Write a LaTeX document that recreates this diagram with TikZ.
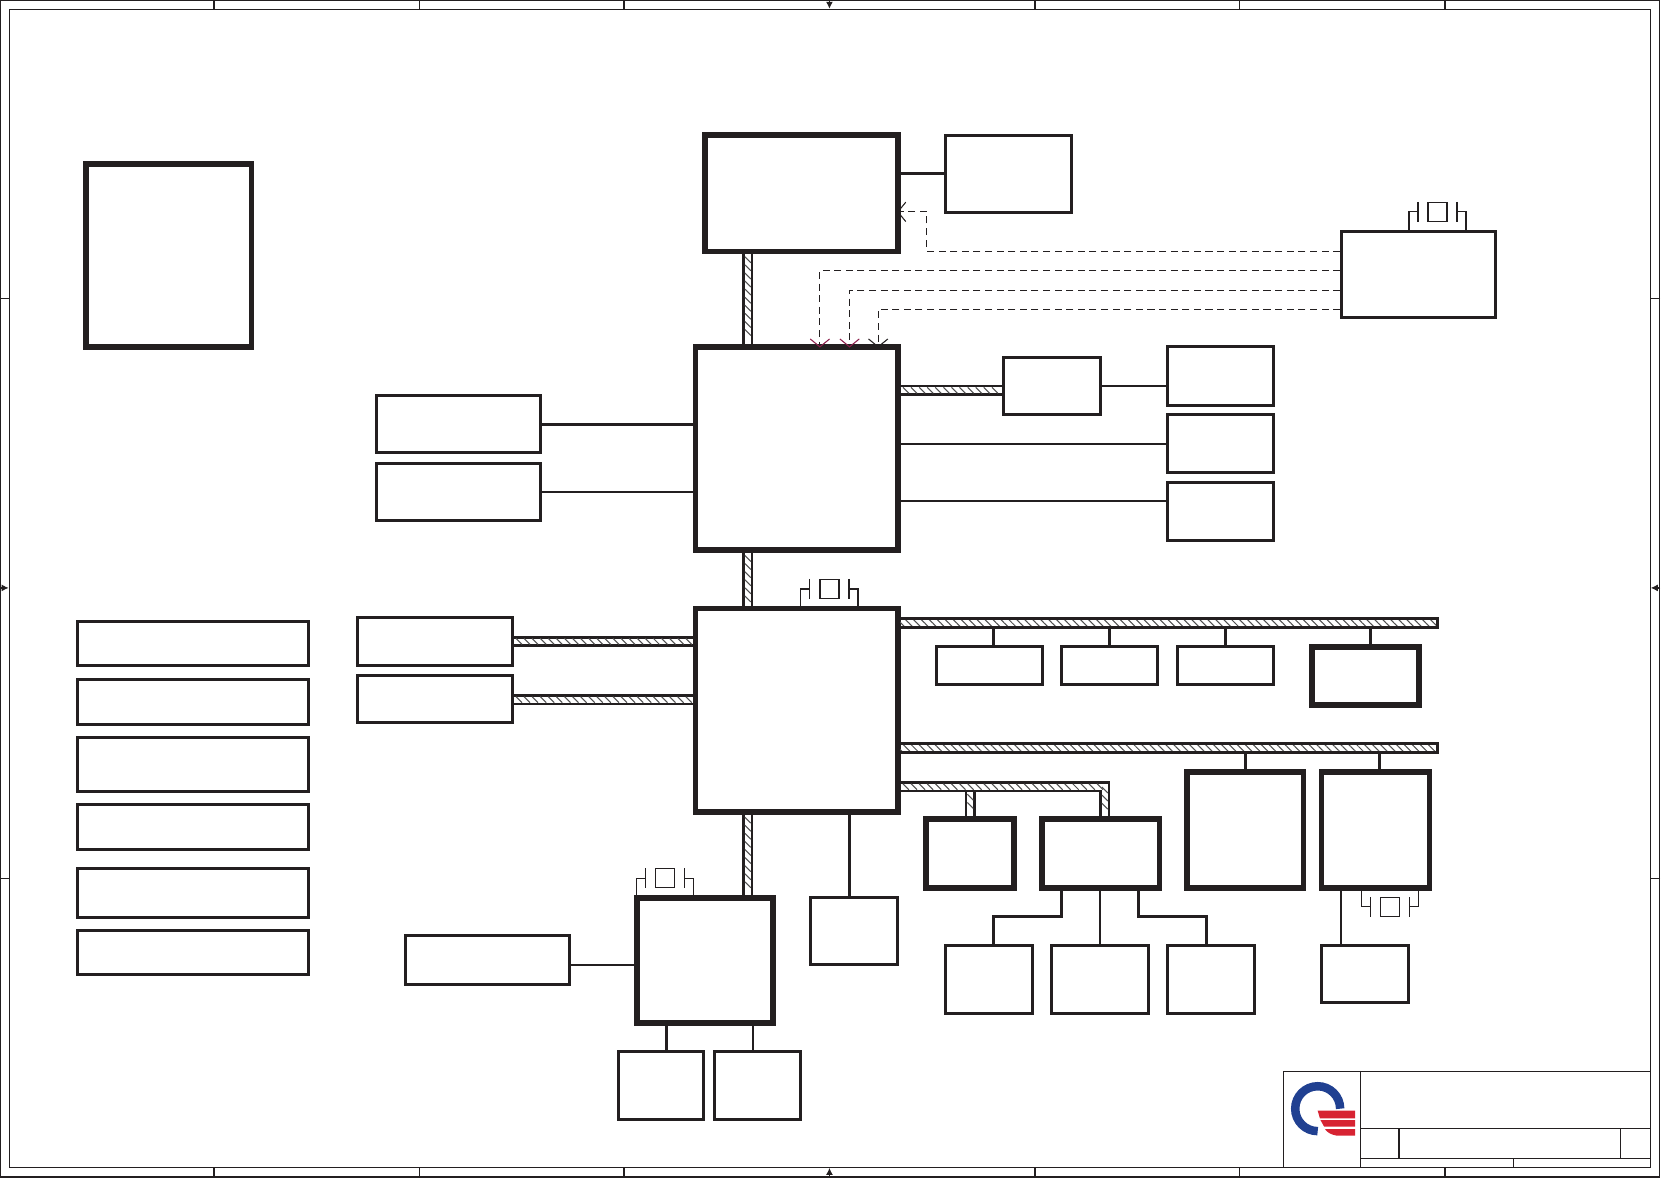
\documentclass[tikz,border=0pt]{standalone}
\usepackage{xcolor}
\usetikzlibrary{positioning, arrows.meta, patterns.meta, decorations.markings}
\definecolor{lineBlack}{RGB}{35, 31, 32}
\definecolor{hatchGray}{RGB}{80, 80, 80}
\definecolor{tipRed}{RGB}{140, 30, 75}
\definecolor{logoBlue}{RGB}{32, 64, 145}
\definecolor{logoRed}{RGB}{215, 35, 50}

\begin{document}
\begin{tikzpicture}[
        x=0.021186cm, y=-0.021186cm,
        wh/.style 2 args={
            minimum width=(#1-1)*0.021186cm, minimum height=(#2-1)*0.021186cm
        },
        box/.style={
            rectangle, draw=lineBlack, line width=1.7pt, fill=white, inner sep=0pt
        },
        heavybox/.style={
            rectangle, draw=lineBlack, line width=3.3pt, fill=white, inner sep=0pt
        },
        sheet/.style={
            rectangle, draw=lineBlack, line width=0.7pt, inner sep=0pt
        },
        rail/.style={
            rectangle, draw=lineBlack, line width=1.45pt, inner sep=0pt,
            pattern={Lines[angle=-45, distance=3.2pt, line width=0.6pt]},
            pattern color=hatchGray
        },
        line/.style={draw=lineBlack, line width=1.45pt},
        link/.style={draw=lineBlack, line width=1pt},
        thin line/.style={draw=lineBlack, line width=0.7pt},
        sheet line/.style={draw=lineBlack, line width=0.7pt},
        sheet arrow/.style={
            draw=lineBlack, line width=0.7pt, -{Latex[length=4pt, width=4pt]}
        },
        signal/.style={
            draw=lineBlack, line width=0.55pt, dash pattern=on 4pt off 2.6pt,
            shorten >=-2pt
        },
        barb/.style={
            -{Straight Barb[length=4.5pt, width=11pt, line width=0.6pt, color=#1]}
        },
        bus/.style={
            draw=lineBlack, line width=6.3pt,
            postaction={draw=white, line width=3.3pt},
            postaction={decorate, decoration={markings,
                mark=between positions 3pt and -2pt step 4.6pt with {
                    \pgftransformresetnontranslations
                    \draw[hatchGray, line width=0.6pt] (-2.8,-2.8) -- (2.8,2.8);
                }}}
        },
        xtalbox/.style={
            rectangle, draw=lineBlack, line width=0.7pt, fill=white, inner sep=0pt,
            minimum size=18*0.021186cm
        },
        crystal/.pic={
            \node[xtalbox] (-q) at (0,0) {};
            \draw[thin line] (-18.5,-9.5) -- (-18.5,9.5);
            \draw[thin line] (18.5,-9.5) -- (18.5,9.5);
            \draw[thin line] (-18.5,0) -- (-27,0) -- (-27,18);
            \draw[thin line] (18.5,0) -- (27,0) -- (27,18);
        }
    ]
    \useasboundingbox (0,0) rectangle (1568,1112);

    % SHEET FRAME
    \node[sheet, wh={1567}{1111.5}] (outer) at (783.5,555.75) {};
    \node[sheet, wh={1550}{1094}] (inner) at (783.25,555.4) {};

    \draw[sheet line] (outer.north -| 202,0) -- (inner.north -| 202,0);
    \draw[sheet line] (outer.north -| 396,0) -- (inner.north -| 396,0);
    \draw[sheet line] (outer.north -| 589,0) -- (inner.north -| 589,0);
    \draw[sheet line] (outer.north -| 977,0) -- (inner.north -| 977,0);
    \draw[sheet line] (outer.north -| 1170,0) -- (inner.north -| 1170,0);
    \draw[sheet line] (outer.north -| 1364,0) -- (inner.north -| 1364,0);
    \draw[sheet line] (outer.south -| 202,0) -- (inner.south -| 202,0);
    \draw[sheet line] (outer.south -| 396,0) -- (inner.south -| 396,0);
    \draw[sheet line] (outer.south -| 589,0) -- (inner.south -| 589,0);
    \draw[sheet line] (outer.south -| 977,0) -- (inner.south -| 977,0);
    \draw[sheet line] (outer.south -| 1170,0) -- (inner.south -| 1170,0);
    \draw[sheet line] (outer.south -| 1364,0) -- (inner.south -| 1364,0);
    \draw[sheet line] (outer.west |- 0,282) -- (inner.west |- 0,282);
    \draw[sheet line] (outer.west |- 0,829) -- (inner.west |- 0,829);
    \draw[sheet line] (outer.east |- 0,282) -- (inner.east |- 0,282);
    \draw[sheet line] (outer.east |- 0,829) -- (inner.east |- 0,829);

    \draw[sheet arrow] (outer.north -| 783,0) -- (inner.north -| 783,0);
    \draw[sheet arrow] (outer.south -| 783,0) -- (inner.south -| 783,0);
    \draw[sheet arrow] (outer.west |- 0,555) -- (inner.west |- 0,555);
    \draw[sheet arrow] (outer.east |- 0,555) -- (inner.east |- 0,555);

    % TITLE BLOCK
    \node[sheet, wh={347.5}{91.5}] (title) at (1384.75,1056.75) {};
    \draw[sheet line] (1284,0 |- title.north) -- (1284,0 |- title.south);
    \draw[sheet line] (1284,1065) -- (title.east |- 0,1065);
    \draw[sheet line] (1284,1093.5) -- (title.east |- 0,1093.5);
    \draw[sheet line] (1320.7,1065) -- (1320.7,1093.5);
    \draw[sheet line] (1529.5,1065) -- (1529.5,1093.5);
    \draw[sheet line] (1429,1093.5) -- (1429,0 |- title.south);

    % LOGO
    \draw[logoBlue, line width=0.17cm] (1265.1,1046.6) arc[start angle=0, end angle=-270, radius=21.2];
    \fill[logoRed] (1243.9,1048.5) -- (1279.2,1048.5) -- (1279.2,1055.7) -- (1246,1055.7) -- cycle;
    \fill[logoRed] (1246.5,1057.3) -- (1279.2,1057.3) -- (1279.2,1063.6) -- (1250,1063.6) -- cycle;
    \fill[logoRed] (1250.7,1065.8) -- (1279.2,1065.8) -- (1279.2,1072.1) -- (1262,1072.1) .. controls (1256,1071) and (1253,1069) .. cycle;

    % TOP ROW
    \node[heavybox, wh={157}{174}] (memo) at (159.5,241) {};
    \node[heavybox, wh={183}{111}] (cpu) at (756.5,182.5) {};
    \node[box, wh={120}{74}] (therm) at (952,164) {};
    \node[box, wh={146}{82}] (clkgen) at (1339,259) {};

    % NORTH BRIDGE AND ITS NEIGHBOURS
    \node[heavybox, wh={192}{193}] (nb) at (752,423.5) {};
    \node[box, wh={156}{55}] (dimm1) at (433,400.5) {};
    \node[box, wh={156}{55}] (dimm2) at (433,464.5) {};
    \node[box, wh={92}{55}] (video) at (993,364.5) {};
    \node[box, wh={101}{56}] (out1) at (1152.5,355) {};
    \node[box, wh={101}{56}] (out2) at (1152.5,419) {};
    \node[box, wh={101}{56}] (out3) at (1152.5,483) {};

    % SOUTH BRIDGE AND ITS NEIGHBOURS
    \node[heavybox, wh={192}{193}] (sb) at (752,670.5) {};
    \node[box, wh={147}{47}] (sata1) at (410.5,605.5) {};
    \node[box, wh={147}{46}] (sata2) at (410.5,660) {};

    % LEFT COLUMN
    \node[box, wh={219}{43}] (list1) at (182.5,607.5) {};
    \node[box, wh={219}{43}] (list2) at (182.5,662.5) {};
    \node[box, wh={219}{52}] (list3) at (182.5,722) {};
    \node[box, wh={219}{43}] (list4) at (182.5,780.5) {};
    \node[box, wh={219}{48}] (list5) at (182.5,843) {};
    \node[box, wh={219}{42}] (list6) at (182.5,899) {};

    % RAILS
    \node[rail, wh={510}{9.4}] (railA) at (1102.5,588) {};
    \node[rail, wh={510}{9.4}] (railB) at (1102.5,706) {};

    % DEVICES ON THE RAILS
    \node[box, wh={101}{37}] (usb1) at (934.5,628.5) {};
    \node[box, wh={91}{37}] (usb2) at (1047.5,628.5) {};
    \node[box, wh={92}{37}] (usb3) at (1157,628.5) {};
    \node[heavybox, wh={102}{56}] (usb4) at (1289,638) {};
    \node[heavybox, wh={84}{66}] (audio) at (916,806) {};
    \node[heavybox, wh={112}{66}] (ctrl) at (1039,806) {};
    \node[heavybox, wh={111}{111}] (card) at (1175.5,783.5) {};
    \node[heavybox, wh={103}{111}] (lan) at (1298.5,783.5) {};
    \node[box, wh={83}{65}] (port1) at (933.5,924.5) {};
    \node[box, wh={93}{65}] (port2) at (1038.5,924.5) {};
    \node[box, wh={83}{65}] (port3) at (1143.5,924.5) {};
    \node[box, wh={83}{55}] (jack) at (1288.5,919.5) {};
    \node[box, wh={83}{64}] (flash) at (806.5,879) {};

    % EMBEDDED CONTROLLER GROUP
    \node[heavybox, wh={129}{119}] (ec) at (665.5,906.5) {};
    \node[box, wh={156}{47}] (rom) at (460,906.5) {};
    \node[box, wh={82}{65}] (kbd) at (624,1024.5) {};
    \node[box, wh={82}{65}] (fan) at (715,1024.5) {};

    % CRYSTALS
    \pic (xclk) at (1357,200) {crystal};
    \pic (xsb) at (783,556) {crystal};
    \pic (xec) at (628,829) {crystal};
    \pic[yscale=-1] (xlan) at (1312,856) {crystal};

    % BUSES
    \path[bus] (cpu.south -| 706,0) -- (nb.north -| 706,0);
    \path[bus] (nb.south -| 706,0) -- (sb.north -| 706,0);
    \path[bus] (sb.south -| 706,0) -- (ec.north -| 706,0);
    \path[bus] (nb.east |- 0,368.5) -- (video.west |- 0,368.5);
    \path[bus] (sata1.east |- 0,605.5) -- (sb.west |- 0,605.5);
    \path[bus] (sata2.east |- 0,660.5) -- (sb.west |- 0,660.5);
    \path[bus] (sb.east |- 0,742.7) -| (ctrl.north -| 1043,0);
    \path[bus] (916,747.7) -- (audio.north);

    % PLAIN LINKS
    \draw[line] (cpu.east |- therm.west) -- (therm.west);
    \draw[line] (dimm1.east) -- (nb.west |- dimm1.east);
    \draw[line] (dimm2.east) -- (nb.west |- dimm2.east);
    \draw[line] (video.east) -- (out1.west |- video.east);
    \draw[link] (nb.east |- out2.west) -- (out2.west);
    \draw[line] (nb.east |- 0,473) -- (out3.west |- 0,473);
    \draw[link] (rom.east |- 0,911) -- (ec.west |- 0,911);
    \draw[line] (sb.south -| 802,0) -- (flash.north -| 802,0);
    \draw[line] (ec.south -| 629,0) -- (kbd.north -| 629,0);
    \draw[line] (ec.south -| 711,0) -- (fan.north -| 711,0);

    % RAIL DROPS
    \draw[line] (railA.south -| 938,0) -- (usb1.north -| 938,0);
    \draw[line] (railA.south -| usb2.north) -- (usb2.north);
    \draw[line] (railA.south -| usb3.north) -- (usb3.north);
    \draw[line] (railA.south -| 1294,0) -- (usb4.north -| 1294,0);
    \draw[line] (railB.south -| card.north) -- (card.north);
    \draw[line] (railB.south -| 1302,0) -- (lan.north -| 1302,0);

    % PORTS UNDER THE CONTROLLER
    \draw[line] (ctrl.south -| 1002,0) |- (938,865) -- (port1.north -| 938,0);
    \draw[line] (ctrl.south -| port2.north) -- (port2.north);
    \draw[line] (ctrl.south -| 1075,0) |- (1139,865) -- (port3.north -| 1139,0);
    \draw[line] (lan.south -| 1266,0) -- (jack.north -| 1266,0);

    % CLOCK SIGNALS
    \draw[signal, barb=lineBlack] (clkgen.west |- 0,237) -- (875,237) -- (875,200) -- (cpu.east |- 0,200);
    \draw[signal, barb=tipRed] (clkgen.west |- 0,255) -- (774,255) -- (nb.north -| 774,0);
    \draw[signal, barb=tipRed] (clkgen.west |- 0,274) -- (802,274) -- (nb.north -| 802,0);
    \draw[signal, barb=lineBlack] (clkgen.west |- 0,292) -- (829,292) -- (nb.north -| 829,0);

\end{tikzpicture}
\end{document}
